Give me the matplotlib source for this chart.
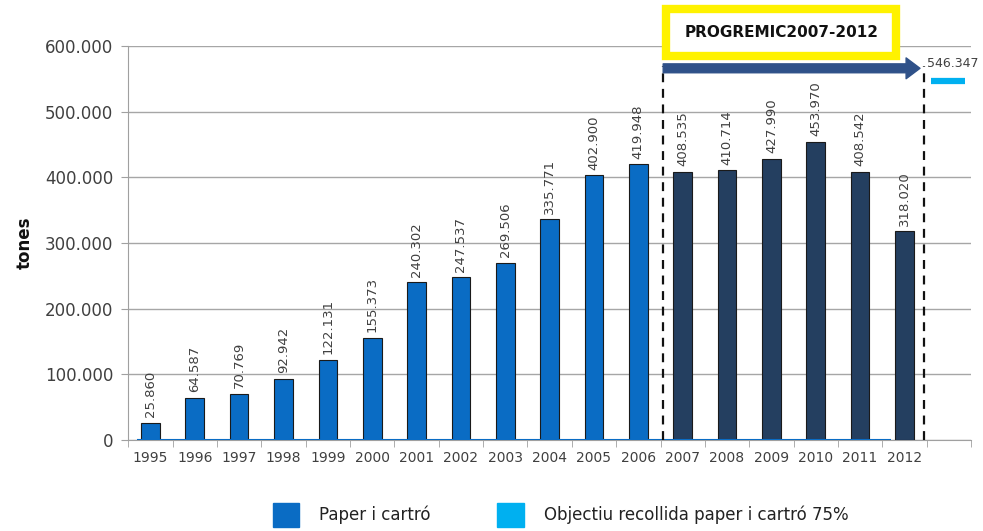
"""Paper i cartró collection per year, 1995-2012, with PROGREMIC 2007-2012 target."""

import matplotlib
matplotlib.use("Agg")
import matplotlib.pyplot as plt
from matplotlib.patches import Patch, Rectangle
from matplotlib.ticker import FuncFormatter, MultipleLocator

# ─── Data ─────────────────────────────────────────────────────────────────────

YEARS = ["1995", "1996", "1997", "1998", "1999", "2000", "2001", "2002", "2003",
         "2004", "2005", "2006", "2007", "2008", "2009", "2010", "2011", "2012"]
TONNES = [25860, 64587, 70769, 92942, 122131, 155373, 240302, 247537, 269506,
          335771, 402900, 419948, 408535, 410714, 427990, 453970, 408542, 318020]
PROGREMIC_START = "2007"
TARGET_VALUE = 546347
Y_TICKS = [0, 100000, 200000, 300000, 400000, 500000, 600000]

BLUE = "#0A6CC4"
NAVY = "#243F60"
LIGHT_BLUE = "#00B0F0"
ARROW = "#2F5189"
TEXT = "#404040"


def fmt_thousands(v, _pos=None):
    v = int(round(v))
    return f"{v:,}".replace(",", ".") if v else "0"


def main() -> None:
    fig = plt.figure(figsize=(9.83, 5.31), dpi=100)
    ax = fig.add_axes([0.1305, 0.1714, 0.8573, 0.742])

    n = len(YEARS)
    xs = list(range(n))
    split = YEARS.index(PROGREMIC_START)
    colours = [BLUE if i < split else NAVY for i in xs]

    ax.bar(xs, TONNES, width=0.42, color=colours, edgecolor="#1A1A1A",
           linewidth=0.8, zorder=3)
    ax.hlines(0, -0.3, n - 1.3, color=BLUE, linewidth=1.5, zorder=4)

    for x, v in zip(xs, TONNES):
        ax.annotate(fmt_thousands(v), (x, v), xytext=(0, 4),
                    textcoords="offset points", rotation=90, ha="center",
                    va="bottom", fontsize=9.5, color=TEXT, zorder=5)

    # target marker for the 2007-2012 programme
    ax.hlines(TARGET_VALUE, n - 0.4, n + 0.37, color=LIGHT_BLUE, linewidth=4.5,
              zorder=4, clip_on=False)
    ax.text(n - 0.5, TARGET_VALUE + 17000, fmt_thousands(TARGET_VALUE),
            fontsize=9, color=TEXT, ha="left", va="bottom", clip_on=False)

    # dashed bounds + arrow of the PROGREMIC period
    x0, x1 = split - 0.44, n - 0.55
    for xv in (x0, x1):
        ax.vlines(xv, 0, 570000, colors="#111111", linestyles=(0, (4, 3)),
                  linewidth=1.6, zorder=6)
    ax.annotate("", xy=(x1 - 0.1, 566000), xytext=(x0, 566000),
                arrowprops=dict(arrowstyle="simple,head_width=0.75,head_length=0.5,tail_width=0.32",
                                color=ARROW, mutation_scale=20, shrinkA=0, shrinkB=0),
                zorder=6, annotation_clip=False)

    box = Rectangle((split - 0.38, 585000), 5.2, 72000, facecolor="white",
                    edgecolor="#FFF200", linewidth=6, clip_on=False, zorder=7)
    ax.add_patch(box)
    ax.text(split - 0.38 + 2.6, 621000, "PROGREMIC2007-2012", fontsize=11,
            fontweight="bold", color="#111111", ha="center", va="center",
            zorder=8, clip_on=False)

    # axes
    ax.set_xlim(-0.5, n + 0.5)
    ax.set_ylim(0, 600000)
    ax.set_yticks(Y_TICKS)
    ax.yaxis.set_major_formatter(FuncFormatter(fmt_thousands))
    ax.set_xticks(xs)
    ax.set_xticklabels(YEARS)
    ax.xaxis.set_minor_locator(MultipleLocator(1, offset=0.5))
    ax.tick_params(axis="x", which="major", length=0, labelsize=10,
                   labelcolor=TEXT, pad=8)
    ax.tick_params(axis="x", which="minor", length=5, color="#A0A0A0")
    ax.tick_params(axis="y", length=5, color="#A0A0A0", labelsize=12,
                   labelcolor=TEXT, pad=6)
    ax.grid(axis="y", color="#A6A6A6", linewidth=1, zorder=0)
    for side in ("top", "right"):
        ax.spines[side].set_visible(False)
    for side in ("left", "bottom"):
        ax.spines[side].set_color("#A0A0A0")
    ax.set_ylabel("tones", fontsize=12, fontweight="bold", color="#111111",
                  labelpad=8)

    handles = [Patch(facecolor=BLUE, edgecolor=BLUE),
               Patch(facecolor=LIGHT_BLUE, edgecolor=LIGHT_BLUE)]
    fig.legend(handles, ["Paper i cartró", "Objectiu recollida paper i cartró 75%"],
               loc="lower left", bbox_to_anchor=(0.262, -0.02), ncol=2,
               frameon=False, fontsize=12, handlelength=1.6, handleheight=1.8,
               columnspacing=4.0, handletextpad=1.2, labelcolor="#222222")

    fig.savefig("out.png", dpi=100)
    plt.close(fig)


if __name__ == "__main__":
    main()
